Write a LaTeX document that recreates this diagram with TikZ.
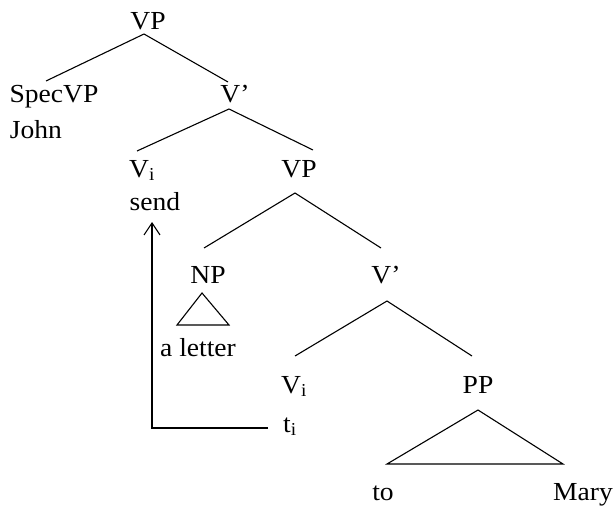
\documentclass[tikz,border=0pt]{standalone}
\usepackage{fontspec}
\setmainfont{Liberation Serif}
\usetikzlibrary{arrows.meta}

\begin{document}
\begin{tikzpicture}[x=1pt,y=-1pt,line width=1.1pt,
  lbl/.style={anchor=base,inner sep=0pt,xscale=1.06,font=\fontsize{26}{30}\selectfont}]
  \useasboundingbox (0,0) rectangle (615,506);

  \node[lbl] (vp)     at (148,29)  {VP};
  \node[lbl] (spec)   at (54,102)  {SpecVP};
  \node[lbl] (john)   at (36,138)  {John};
  \node[lbl] (vbar)   at (235,102) {V'};
  \node[lbl] (vi)     at (142,177) {V\textsubscript{i}};
  \node[lbl] (send)   at (155,210) {send};
  \node[lbl] (vp2)    at (299,177) {VP};
  \node[lbl] (np)     at (208,283) {NP};
  \node[lbl] (letter) at (198,356) {a letter};
  \node[lbl] (vbar2)  at (386,283) {V'};
  \node[lbl] (vi2)    at (294,393) {V\textsubscript{i}};
  \node[lbl] (ti)     at (290,432) {t\textsubscript{i}};
  \node[lbl] (pp)     at (478,393) {PP};
  \node[lbl] (to)     at (383,500) {to};
  \node[lbl] (mary)   at (583,500) {Mary};

  \draw ([shift={(-8,-21)}]spec.base) -- ([shift={(-4,5)}]vp.base) -- ([shift={(-7,-20)}]vbar.base);
  \draw ([shift={(-5,-26)}]vi.base) -- ([shift={(-6,7)}]vbar.base) -- ([shift={(14,-27)}]vp2.base);
  \draw ([shift={(-4,-35)}]np.base) -- ([shift={(-4,16)}]vp2.base) -- ([shift={(-5,-35)}]vbar2.base);
  \draw ([shift={(1,-37)}]vi2.base) -- ([shift={(1,18)}]vbar2.base) -- ([shift={(-6,-37)}]pp.base);

  % triangles
  \draw ([shift={(-6,10)}]np.base) -- ([shift={(21,42)}]np.base) -- ([shift={(-31,42)}]np.base) -- cycle;
  \draw ([shift={(0,17)}]pp.base) -- ([shift={(85,71)}]pp.base) -- ([shift={(-91,71)}]pp.base) -- cycle;

  % movement
  \draw[-{Straight Barb[length=12pt,width=16pt]}] ([shift={(-22,-4)}]ti.base) -| ([shift={(-3,12)}]send.base);

\end{tikzpicture}
\end{document}
